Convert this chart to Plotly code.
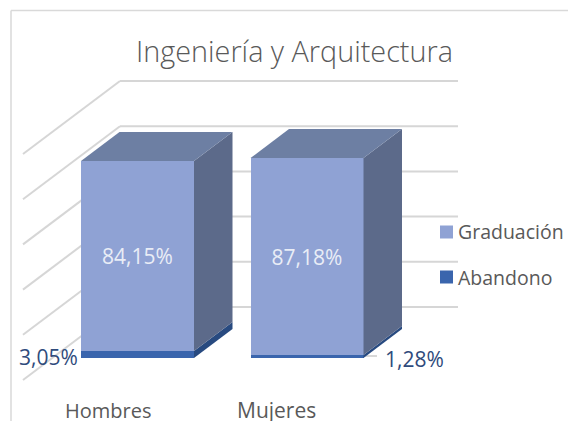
import plotly.graph_objects as go

categories = ["Hombres", "Mujeres"]
abandono = [3.05, 1.28]
graduacion = [84.15, 87.18]
grid_values = [0, 20, 40, 60, 80, 100]

TITLE = "Ingeniería y Arquitectura"
FONT = "Open Sans"
TEXT = "#595959"
BLUE_TXT = "#2F4B7C"
GRID = "#D6D6D6"
C_GRAD = ["#8FA2D4", "#6D7FA3", "#5C6A8A"]   # front, top, side
C_ABAN = ["#3A65AD", "#2C4F88", "#284A80"]

W, H = 568, 421
PX_X = 169.5     # px per category
PX_Y = 2.26      # px per percent
X0_PX = 137.5    # centre of first category
Y0_PX = 358.0    # baseline of bars
BAR_W = 113 / PX_X
DX = 38.5 / PX_X  # oblique depth of a bar
DY = 29 / PX_Y

xr = [(0 - X0_PX) / PX_X, (W - X0_PX) / PX_X]
yr = [(Y0_PX - H) / PX_Y, Y0_PX / PX_Y]

fx = lambda px: (px - X0_PX) / PX_X
fy_off = lambda py: (Y0_PX - py) / PX_Y   # px on screen -> value units

fig = go.Figure()

# front faces
fig.add_bar(x=list(range(len(categories))), y=abandono, width=BAR_W, name="Abandono",
            marker=dict(color=C_ABAN[0], line=dict(width=0)), showlegend=False, hoverinfo="skip")
fig.add_bar(x=list(range(len(categories))), y=graduacion, width=BAR_W, name="Graduación",
            marker=dict(color=C_GRAD[0], line=dict(width=0)), showlegend=False, hoverinfo="skip",
            text=[f"{v:.2f}%".replace(".", ",") for v in graduacion],
            textposition="inside", insidetextanchor="middle", textangle=0,
            textfont=dict(family=FONT, size=21, color="#E9EDF6"), constraintext="none")


def poly(xs, ys, color):
    fig.add_trace(go.Scatter(x=xs, y=ys, mode="lines", fill="toself", fillcolor=color,
                             line=dict(width=0, color=color), showlegend=False, hoverinfo="skip"))


for i in range(len(categories)):
    xl, xr_ = i - BAR_W / 2, i + BAR_W / 2
    a, g = abandono[i], abandono[i] + graduacion[i]
    # side faces
    poly([xr_, xr_ + DX, xr_ + DX, xr_], [0, DY, DY + a, a], C_ABAN[2])
    poly([xr_, xr_ + DX, xr_ + DX, xr_], [a, DY + a, DY + g, g], C_GRAD[2])
    # top face
    poly([xl, xr_, xr_ + DX, xl + DX], [g, g, g + DY, g + DY], C_GRAD[1])

shapes = []
# chart frame
line_frame = dict(color="#D9D9D9", width=1.5)
shapes.append(dict(type="line", xref="paper", yref="paper", x0=11 / W, x1=1, y0=1 - 10.5 / H, y1=1 - 10.5 / H, line=line_frame, layer="below"))
shapes.append(dict(type="line", xref="paper", yref="paper", x0=11 / W, x1=11 / W, y0=0, y1=1 - 10.5 / H, line=line_frame, layer="below"))

# gridlines: back wall and left wall, from the value scale
back_off = fy_off(307)
front_off = fy_off(380)
for v in grid_values:
    line = dict(color=GRID, width=2)
    shapes.append(dict(type="line", xref="x", yref="y", x0=fx(120), x1=fx(458), y0=v + back_off, y1=v + back_off, line=line, layer="below"))
    shapes.append(dict(type="line", xref="x", yref="y", x0=fx(120), x1=fx(23), y0=v + back_off, y1=v + front_off, line=line, layer="below"))

# leader line of the 1,28% label
shapes.append(dict(type="line", xref="x", yref="y", x0=1 + BAR_W / 2, x1=fx(377), y0=fy_off(356), y1=fy_off(356),
                   line=dict(color="#BFBFBF", width=1.2), layer="below"))

# legend swatches
for py, col in [(232, C_GRAD[0]), (277, C_ABAN[0])]:
    shapes.append(dict(type="rect", xref="paper", yref="paper", x0=440 / W, x1=453 / W,
                       y0=1 - (py + 6.5) / H, y1=1 - (py - 6.5) / H, fillcolor=col, line=dict(width=0), layer="above"))

ann = []
def label(text, px, py, size, color, anchor="center"):
    ann.append(dict(text=text, xref="paper", yref="paper", x=px / W, y=1 - py / H, xanchor=anchor, yanchor="middle",
                    showarrow=False, font=dict(family=FONT, size=size, color=color)))

label("Graduación", 456, 232, 19.5, TEXT, "left")
label("Abandono", 456, 277, 19.5, TEXT, "left")
label(categories[0], 108, 410, 20, TEXT)
label(categories[1], 276.5, 410, 21, TEXT)
ann.append(dict(text=f"{abandono[0]:.2f}%".replace(".", ","), xref="x", yref="y", x=-BAR_W / 2 - 1 / PX_X, y=abandono[0] / 2 - 2 / PX_Y,
                xanchor="right", yanchor="middle", showarrow=False, font=dict(family=FONT, size=21, color=BLUE_TXT)))
ann.append(dict(text=f"{abandono[1]:.2f}%".replace(".", ","), xref="x", yref="y", x=1 + BAR_W / 2 + 19 / PX_X, y=abandono[1] / 2 - 2 / PX_Y,
                xanchor="left", yanchor="middle", showarrow=False, font=dict(family=FONT, size=21, color=BLUE_TXT)))

fig.update_layout(
    width=W, height=H, autosize=False, margin=dict(l=0, r=0, t=0, b=0),
    paper_bgcolor="white", plot_bgcolor="rgba(0,0,0,0)", barmode="stack", showlegend=False,
    title=dict(text=TITLE, x=294.5 / W, xanchor="center", y=1 - 52 / H, yanchor="middle",
               font=dict(family=FONT, size=28.8, color=TEXT, weight=300)),
    xaxis=dict(range=xr, visible=False, fixedrange=True),
    yaxis=dict(range=yr, visible=False, fixedrange=True),
    shapes=shapes, annotations=ann,
)
fig.write_html("out.html", config={"displayModeBar": False}, post_script="document.body.style.margin='0';")
